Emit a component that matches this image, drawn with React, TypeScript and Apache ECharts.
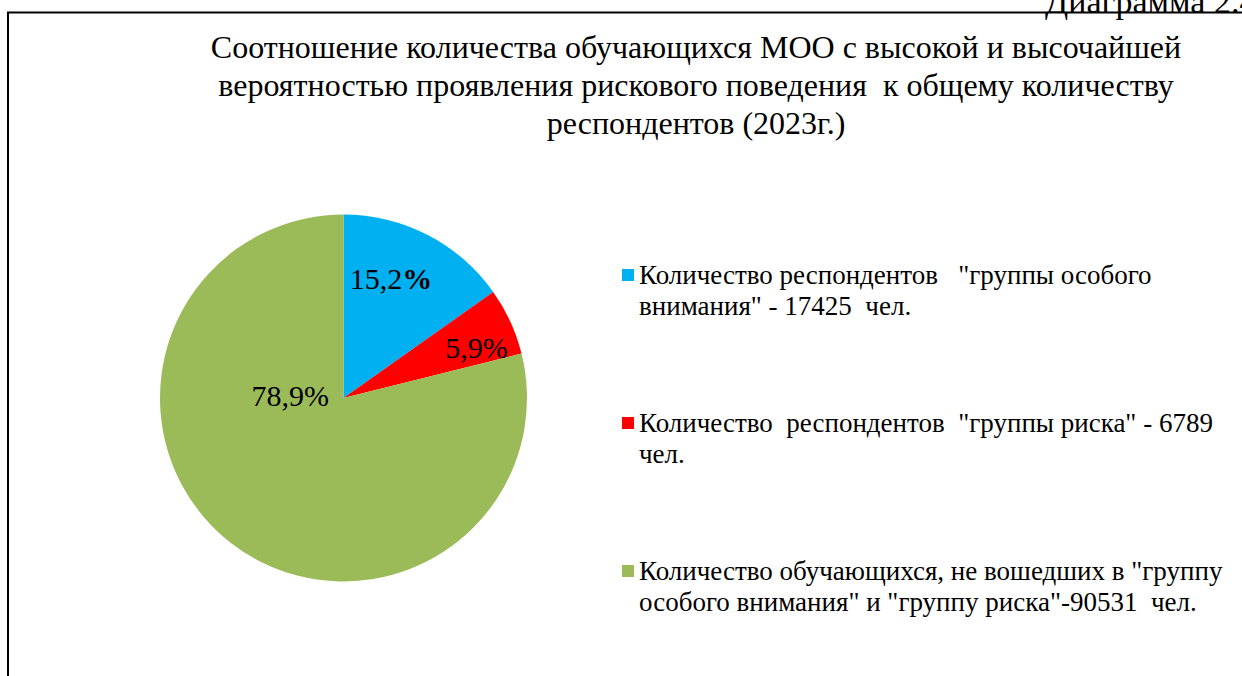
import React, { useEffect, useRef } from "react";
import * as echarts from "echarts";

const titleText =
  "Соотношение количества обучающихся МОО с высокой и высочайшей\nвероятностью проявления рискового поведения  к общему количеству\nреспондентов (2023г.)";
const captionText = "Диаграмма 2.4";

const categories = [
  'Количество респондентов   "группы особого внимания" - 17425  чел.',
  'Количество  респондентов  "группы риска" - 6789 чел.',
  'Количество обучающихся, не вошедших в "группу особого внимания" и "группу риска"-90531  чел.',
];
const legendLines = [
  'Количество респондентов   "группы особого\nвнимания" - 17425  чел.',
  'Количество  респондентов  "группы риска" - 6789\nчел.',
  'Количество обучающихся, не вошедших в "группу\nособого внимания" и "группу риска"-90531  чел.',
];
const values = [17425, 6789, 90531];
const colors = ["#00B0F0", "#FF0000", "#9BBB59"];
const labelShift = [
  [4, -35],
  [47, -11],
  [5, -77],
];

const SERIF = "Liberation Serif, serif";

export default function App() {
  const ref = useRef<HTMLDivElement>(null);
  useEffect(() => {
    if (!ref.current) return;
    const chart = echarts.init(ref.current, undefined, { renderer: "svg" });
    chart.setOption({
      animation: false,
      backgroundColor: "#ffffff",
      title: {
        text: titleText,
        left: 696,
        top: 28,
        padding: 0,
        textAlign: "center",
        textStyle: {
          fontFamily: SERIF,
          fontSize: 32,
          fontWeight: "normal",
          lineHeight: 38,
          color: "#000",
        },
      },
      legend: {
        orient: "vertical",
        left: 622,
        top: 259.5,
        padding: 0,
        itemWidth: 12,
        itemHeight: 43,
        itemGap: 86,
        icon: "path://M0,0L12,0L12,12L0,12Z M0,43L0,43Z",
        formatter: (name: string) => legendLines[categories.indexOf(name)],
        textStyle: {
          fontFamily: SERIF,
          fontSize: 27,
          lineHeight: 31,
          color: "#000",
        },
        data: categories,
      },
      graphic: [
        {
          type: "rect",
          shape: { x: 8, y: 12.5, width: 1300, height: 720 },
          style: { fill: "none", stroke: "#000", lineWidth: 2 },
          silent: true,
        },
        {
          type: "text",
          x: 1045,
          y: 18,
          style: {
            text: captionText,
            font: `34px ${SERIF}`,
            fill: "#000",
            verticalAlign: "bottom",
          },
        },
      ],
      series: [
        {
          type: "pie",
          center: [343.5, 398],
          radius: 183.5,
          startAngle: 90,
          clockwise: true,
          avoidLabelOverlap: false,
          itemStyle: { borderWidth: 0 },
          label: {
            show: true,
            position: "inside",
            fontFamily: SERIF,
            fontSize: 30,
            color: "#000",
            formatter: (p: any) => {
              const t = p.percent.toFixed(1).replace(".", ",");
              return p.dataIndex === 0 ? `{n|${t}}{b|%}` : `{n|${t}%}`;
            },
            rich: {
              n: { fontFamily: SERIF, fontSize: 30, color: "#000" },
              b: { fontFamily: SERIF, fontSize: 30, color: "#000", fontWeight: "bold" },
            },
          },
          labelLine: { show: false },
          labelLayout: (p: any) => ({
            dx: labelShift[p.dataIndex][0],
            dy: labelShift[p.dataIndex][1],
          }),
          data: categories.map((name, i) => ({
            name,
            value: values[i],
            itemStyle: { color: colors[i] },
          })),
        },
      ],
    });
    return () => chart.dispose();
  }, []);
  return (
    <div
      ref={ref}
      style={{ position: "fixed", left: 0, top: 0, width: 1242, height: 676 }}
    />
  );
}
